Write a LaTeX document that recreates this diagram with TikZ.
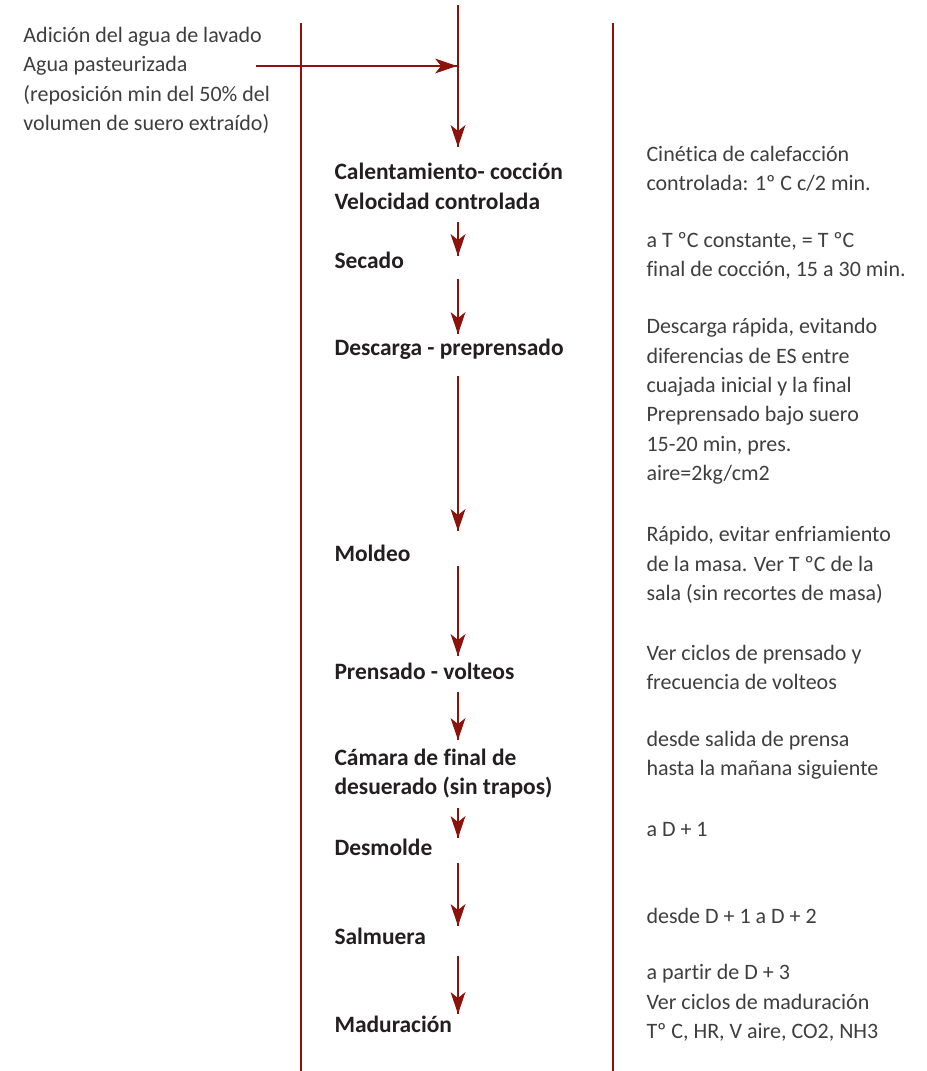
\documentclass[tikz,border=0pt]{standalone}
\usepackage{fontspec}
\setmainfont{Carlito}[Ligatures={NoCommon}]
\definecolor{linered}{RGB}{140,18,12}
\definecolor{stepgray}{RGB}{35,31,32}
\definecolor{notegray}{RGB}{62,62,62}
\tikzset{every picture/.style={line width=0.75pt}}
\tikzset{
  stepnode/.style={anchor=west, inner sep=0pt, font=\fontsize{17.6}{22}\selectfont\bfseries, text=stepgray, align=left},
  notenode/.style={anchor=west, inner sep=0pt, font=\fontsize{16.5}{22}\selectfont, text=notegray, align=left},
  stem/.style={draw=linered, line width=2pt},
  sepline/.style={draw=linered, line width=1.1pt},
  tipshape/.style={fill=linered, draw opacity=0},
}

\begin{document}
\begin{tikzpicture}[x=0.75pt,y=0.75pt,yscale=-1,xscale=1]
	%set diagram size
	\path [use as bounding box] (0,0) rectangle (927,1071);

	%Straight Lines: column separators
	\draw [sepline]   (301,23) -- (301,1071) ;
	\draw [sepline]   (613,23) -- (613,1071) ;

	% Arrow end points
	\coordinate (in0) at (458,5) ;
	\coordinate (in1) at (458,147) ;
	\coordinate (wa0) at (256,66) ;
	\coordinate (wa1) at (457,66) ;
	\coordinate (a1s) at (458,222) ;
	\coordinate (a1e) at (458,256) ;
	\coordinate (a2s) at (458,279) ;
	\coordinate (a2e) at (458,334) ;
	\coordinate (a3s) at (458,376) ;
	\coordinate (a3e) at (458,531) ;
	\coordinate (a4s) at (458,566) ;
	\coordinate (a4e) at (458,656) ;
	\coordinate (a5s) at (458,692) ;
	\coordinate (a5e) at (458,740) ;
	\coordinate (a6s) at (458,808) ;
	\coordinate (a6e) at (458,838) ;
	\coordinate (a7s) at (458,863) ;
	\coordinate (a7e) at (458,926) ;
	\coordinate (a8s) at (458,956) ;
	\coordinate (a8e) at (458,1014) ;

	%Straight Lines: main inlet
	\draw [stem]   (in0) -- (in1) ;
	\draw [shift={(in1)}, rotate = 270] [tipshape] (22,-7.5) -- (0,0) -- (22,7.5) -- (16,0) -- cycle ;
	%Straight Lines: washing water
	\draw [stem]   (wa0) -- (wa1) ;
	\draw [shift={(wa1)}, rotate = 180] [tipshape] (22,-7.5) -- (0,0) -- (22,7.5) -- (16,0) -- cycle ;
	%Straight Lines: process steps
	\draw [stem]   (a1s) -- (a1e) ;
	\draw [shift={(a1e)}, rotate = 270] [tipshape] (22,-7.5) -- (0,0) -- (22,7.5) -- (16,0) -- cycle ;
	\draw [stem]   (a2s) -- (a2e) ;
	\draw [shift={(a2e)}, rotate = 270] [tipshape] (22,-7.5) -- (0,0) -- (22,7.5) -- (16,0) -- cycle ;
	\draw [stem]   (a3s) -- (a3e) ;
	\draw [shift={(a3e)}, rotate = 270] [tipshape] (22,-7.5) -- (0,0) -- (22,7.5) -- (16,0) -- cycle ;
	\draw [stem]   (a4s) -- (a4e) ;
	\draw [shift={(a4e)}, rotate = 270] [tipshape] (22,-7.5) -- (0,0) -- (22,7.5) -- (16,0) -- cycle ;
	\draw [stem]   (a5s) -- (a5e) ;
	\draw [shift={(a5e)}, rotate = 270] [tipshape] (22,-7.5) -- (0,0) -- (22,7.5) -- (16,0) -- cycle ;
	\draw [stem]   (a6s) -- (a6e) ;
	\draw [shift={(a6e)}, rotate = 270] [tipshape] (22,-7.5) -- (0,0) -- (22,7.5) -- (16,0) -- cycle ;
	\draw [stem]   (a7s) -- (a7e) ;
	\draw [shift={(a7e)}, rotate = 270] [tipshape] (22,-7.5) -- (0,0) -- (22,7.5) -- (16,0) -- cycle ;
	\draw [stem]   (a8s) -- (a8e) ;
	\draw [shift={(a8e)}, rotate = 270] [tipshape] (22,-7.5) -- (0,0) -- (22,7.5) -- (16,0) -- cycle ;

	% Text Node: washing water
	\node [notenode] (agua) at (23,80.5) {Adición del agua de lavado\\Agua pasteurizada\\(reposición min del 50\% del\\volumen de suero extraído)};

	% Text Node: steps
	\node [stepnode] (coccion) at (334,186.5) {Calentamiento- cocción\\Velocidad controlada};
	\node [stepnode] (secado) at (334,260) {Secado};
	\node [stepnode] (descarga) at (334,349) {Descarga - preprensado};
	\node [stepnode] (moldeo) at (334,553) {Moldeo};
	\node [stepnode] (prensado) at (334,671) {Prensado - volteos};
	\node [stepnode] (camara) at (334,773.5) {Cámara de final de\\desuerado (sin trapos)};
	\node [stepnode] (desmolde) at (334,847) {Desmolde};
	\node [stepnode] (salmuera) at (334,936) {Salmuera};
	\node [stepnode] (maduracion) at (334,1024) {Maduración};

	% Text Node: notes
	\node [notenode] (n1) at (646,168.5) {Cinética de calefacción\\controlada: 1º C c/2 min.};
	\node [notenode] (n2) at (646,256) {a T ºC constante, = T ºC\\final de cocción, 15 a 30 min.};
	\node [notenode] (n3) at (646,401.5) {Descarga rápida, evitando\\diferencias de ES entre\\cuajada inicial y la final\\Preprensado bajo suero\\15-20 min, pres.\\aire=2kg/cm2};
	\node [notenode] (n4) at (646,565) {Rápido, evitar enfriamiento\\de la masa. Ver T ºC de la\\sala (sin recortes de masa)};
	\node [notenode] (n5) at (646,667.5) {Ver ciclos de prensado y\\frecuencia de volteos};
	\node [notenode] (n6) at (646,755.5) {desde salida de prensa\\hasta la mañana siguiente};
	\node [notenode] (n7) at (646,829) {a D + 1};
	\node [notenode] (n8) at (646,916) {desde D + 1 a D + 2};
	\node [notenode] (n9) at (646,1003) {a partir de D + 3\\Ver ciclos de maduración\\Tº C, HR, V aire, CO2, NH3};

\end{tikzpicture}
\end{document}
